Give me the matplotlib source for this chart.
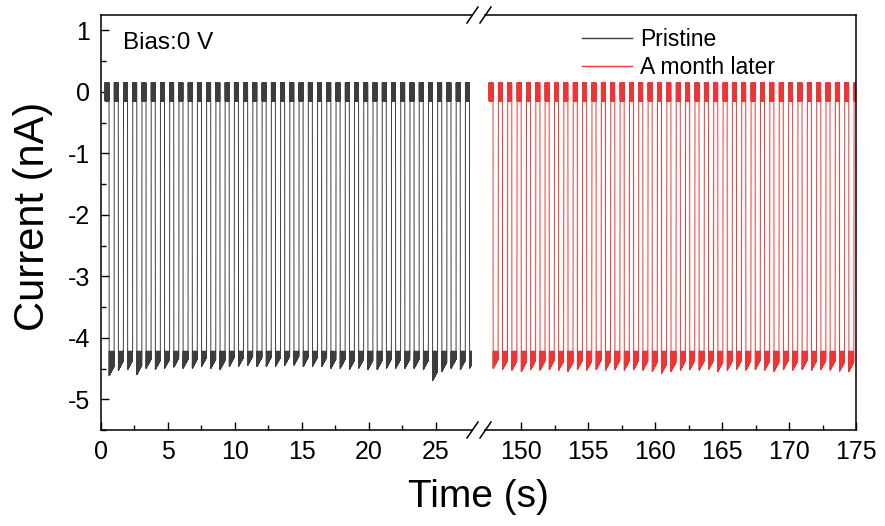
import matplotlib
matplotlib.use("Agg")
import matplotlib.pyplot as plt
from matplotlib.lines import Line2D
from matplotlib.ticker import FixedLocator

plt.rcParams['font.family'] = ['Liberation Sans', 'DejaVu Sans']
plt.rcParams['axes.unicode_minus'] = False

# ---- data ----
pristine_on = [0.30, 0.99, 1.68, 2.37, 3.06, 3.75, 4.44, 5.13, 5.82, 6.51,
               7.20, 7.89, 8.58, 9.27, 9.96, 10.65, 11.34, 12.03, 12.72, 13.41,
               14.10, 14.79, 15.48, 16.17, 16.86, 17.55, 18.24, 18.93, 19.62, 20.31,
               21.00, 21.69, 22.38, 23.07, 23.76, 24.45, 25.14, 25.83, 26.52, 27.21]
pristine_lo_min = [-4.62, -4.53, -4.52, -4.60, -4.50, -4.52, -4.50, -4.48, -4.50, -4.50,
                   -4.47, -4.50, -4.52, -4.47, -4.47, -4.45, -4.47, -4.47, -4.47, -4.45,
                   -4.45, -4.47, -4.47, -4.47, -4.50, -4.50, -4.52, -4.50, -4.52, -4.52,
                   -4.50, -4.50, -4.50, -4.50, -4.52, -4.70, -4.55, -4.50, -4.52, -4.50]
month_on = [147.60, 148.30, 149.00, 149.70, 150.40, 151.10, 151.79, 152.49, 153.19, 153.89,
            154.59, 155.29, 155.99, 156.69, 157.39, 158.09, 158.78, 159.48, 160.18, 160.88,
            161.58, 162.28, 162.98, 163.68, 164.38, 165.08, 165.77, 166.47, 167.17, 167.87,
            168.57, 169.27, 169.97, 170.67, 171.37, 172.07, 172.76, 173.46, 174.16, 174.86]
month_lo_min = [-4.50, -4.52, -4.53, -4.55, -4.52, -4.53, -4.52, -4.53, -4.55, -4.52,
                -4.53, -4.52, -4.53, -4.52, -4.53, -4.52, -4.53, -4.55, -4.58, -4.55,
                -4.53, -4.52, -4.53, -4.52, -4.55, -4.53, -4.52, -4.53, -4.52, -4.53,
                -4.55, -4.52, -4.53, -4.52, -4.53, -4.52, -4.53, -4.55, -4.55, -4.52]
hi_top, hi_bot = 0.15, -0.15
lo_top = -4.22
lo_recover = 0.15
high_dur, gap, low_dur = 0.30, 0.01, 0.37

labels = ['Pristine', 'A month later']
colors = ['#3d3d3d', '#ee3535']


def build(on_times, lo_mins):
    t, y = [], []
    n_hi, n_lo = 36, 40
    for on, lm in zip(on_times, lo_mins):
        for i in range(n_hi):
            t.append(on + high_dur * i / (n_hi - 1))
            y.append(hi_top if i % 2 == 0 else hi_bot)
        s = on + high_dur + gap
        for i in range(n_lo):
            f = i / (n_lo - 1)
            t.append(s + low_dur * f)
            bot = lm + lo_recover * f
            y.append(lo_top if i % 2 == 1 else bot)
    return t, y


W, H = 885, 526
fig = plt.figure(figsize=(W / 100, H / 100), dpi=100)
L, R, B, T = 101, 856, 430, 15
x1r, x2l = 472, 485
ax1 = fig.add_axes([L / W, 1 - B / H, (x1r - L) / W, (B - T) / H])
ax2 = fig.add_axes([x2l / W, 1 - B / H, (R - x2l) / W, (B - T) / H], sharey=ax1)

t1, y1 = build(pristine_on, pristine_lo_min)
t2, y2 = build(month_on, month_lo_min)
ax1.plot(t1, y1, color=colors[0], lw=0.7)
ax2.plot(t2, y2, color=colors[1], lw=0.7)

ax1.set_xlim(0, 27.7)
ax2.set_xlim(147.3, 175)
ax1.set_ylim(-5.5, 1.25)

ax1.spines['right'].set_visible(False)
ax2.spines['left'].set_visible(False)
for ax in (ax1, ax2):
    for s in ax.spines.values():
        s.set_linewidth(1.1)
    ax.tick_params(which='both', direction='in', top=False, right=False, width=1.0)
    ax.tick_params(which='major', length=6, labelsize=18, pad=7)
    ax.tick_params(which='minor', length=3.5)

ax1.xaxis.set_major_locator(FixedLocator([0, 5, 10, 15, 20, 25]))
ax1.xaxis.set_minor_locator(FixedLocator([2.5, 7.5, 12.5, 17.5, 22.5]))
ax2.xaxis.set_major_locator(FixedLocator([150, 155, 160, 165, 170, 175]))
ax2.xaxis.set_minor_locator(FixedLocator([152.5, 157.5, 162.5, 167.5, 172.5]))
ax1.yaxis.set_major_locator(FixedLocator([-5, -4, -3, -2, -1, 0, 1]))
ax1.yaxis.set_minor_locator(FixedLocator([-5.5, -4.5, -3.5, -2.5, -1.5, -0.5, 0.5]))
ax1.tick_params(axis='y', which='major', pad=8)
ax2.tick_params(axis='y', which='both', left=False, labelleft=False)


def px(x, y):
    return x / W, 1 - y / H

# break marks
for yb in (T, B):
    for xc in (x1r, x2l):
        a = px(xc - 5, yb + 8)
        b = px(xc + 6, yb - 8)
        fig.add_artist(Line2D([a[0], b[0]], [a[1], b[1]], color='black', lw=1.1,
                              transform=fig.transFigure))

handles = [Line2D([], [], color=colors[0], lw=1.0), Line2D([], [], color=colors[1], lw=1.0)]
fig.legend(handles, labels, loc='upper left', bbox_to_anchor=px(566, 12),
           frameon=False, fontsize=16.5, handlelength=2.2, handletextpad=0.35,
           labelspacing=0.22, borderpad=0.2)

fig.text(*px(123, 43), 'Bias:0 V', fontsize=17.5, ha='left', va='center')
fig.text(*px(33, 216), 'Current (nA)', fontsize=30, rotation=90, ha='center', va='center')
fig.text(*px(478, 497), 'Time (s)', fontsize=28, ha='center', va='center')

fig.savefig('out.png', dpi=100)
